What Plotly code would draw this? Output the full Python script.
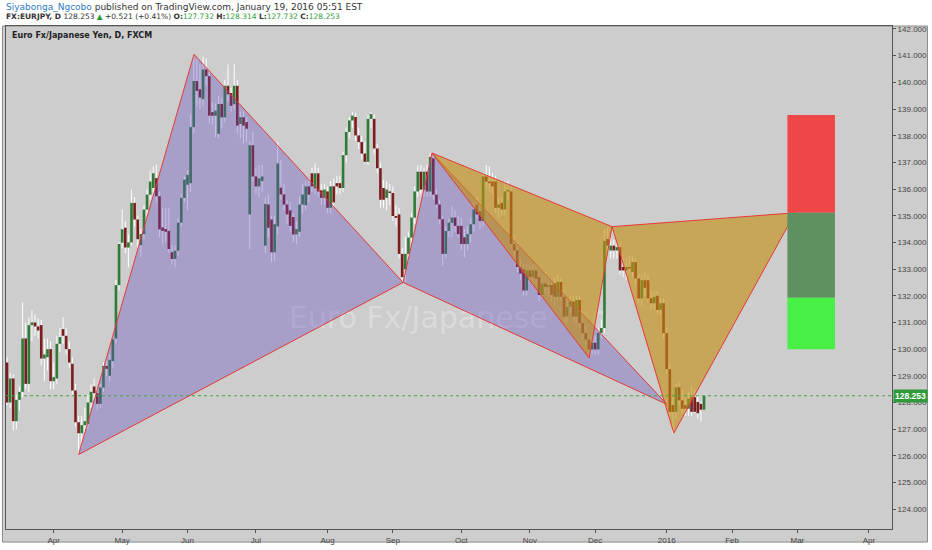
import pandas as pd
import plotly.graph_objects as go

# EURJPY daily candles (FXCM), one per weekday starting 2015-03-11
first_day = "2015-03-11"

open_ = [
    129.50, 128.00, 128.90, 127.30, 128.10, 128.40, 130.40, 128.70, 130.90, 131.00,
    130.85, 130.90, 129.65, 129.70, 130.00, 128.80, 128.90, 130.20, 130.75, 130.50,
    130.00, 129.45, 128.45, 127.26, 126.85, 127.15, 127.20, 128.00, 128.60, 128.35,
    127.95, 128.56, 129.37, 129.00, 129.55, 130.40, 132.40, 133.99, 134.55, 133.81,
    134.00, 135.48, 134.86, 133.90, 134.31, 135.23, 135.79, 136.04, 136.41, 135.73,
    134.56, 134.50, 134.43, 133.63, 133.38, 133.69, 134.74, 135.67, 136.16, 136.22,
    138.32, 140.05, 139.74, 139.37, 140.48, 140.23, 138.88, 138.75, 138.07, 139.19,
    138.69, 139.87, 139.60, 139.18, 139.87, 138.44, 138.69, 138.51, 135.05, 137.64,
    136.47, 136.10, 136.30, 133.88, 135.42, 134.86, 133.63, 134.60, 136.05, 135.80,
    135.42, 135.20, 134.95, 134.30, 134.40, 135.42, 135.40, 136.10, 136.59, 136.03,
    136.59, 135.95, 135.67, 135.91, 135.30, 136.10, 136.22, 136.22, 136.04, 137.27,
    138.14, 138.57, 138.70, 138.01, 137.76, 137.33, 137.02, 138.63, 138.63, 137.52,
    136.78, 136.04, 135.67, 135.91, 135.85, 134.99, 135.05, 133.57, 132.99, 133.57,
    134.18, 134.93, 135.91, 136.65, 135.98, 136.65, 135.91, 137.15, 135.79, 135.42,
    134.87, 133.57, 134.43, 134.74, 134.93, 134.62, 134.62, 134.19, 133.94, 134.31,
    134.68, 135.42, 135.17, 134.80, 136.47, 136.28, 136.28, 136.28, 135.30, 135.48,
    135.24, 135.91, 135.91, 133.94, 133.70, 133.08, 133.00, 132.20, 132.95, 132.70,
    132.95, 132.70, 132.03, 132.46, 132.33, 132.40, 132.46, 131.96, 132.52, 131.96,
    131.22, 131.59, 131.78, 131.22, 131.84, 130.98, 130.60, 130.36, 129.99, 130.24,
    129.99, 130.61, 130.79, 134.13, 133.70, 133.88, 133.70, 133.82, 133.08, 132.95,
    133.08, 132.89, 133.26, 132.65, 131.90, 132.58, 132.58, 131.90, 131.72, 132.00,
    131.47, 131.72, 130.60, 129.25, 127.90, 127.65, 128.57, 128.08, 127.90, 127.77,
    128.20, 128.20, 128.02, 127.95, 127.732,
]

high = [
    129.70, 129.10, 129.05, 128.30, 128.60, 131.75, 131.00, 131.20, 131.45, 131.30,
    131.15, 131.10, 130.40, 130.40, 130.30, 129.50, 130.50, 130.80, 131.20, 130.80,
    130.30, 129.70, 128.70, 127.50, 127.50, 127.80, 128.30, 128.70, 128.90, 128.55,
    128.70, 129.50, 129.60, 129.80, 130.50, 132.60, 134.00, 135.24, 134.80, 134.30,
    135.97, 135.70, 135.00, 134.50, 135.40, 136.00, 136.70, 136.85, 136.90, 135.90,
    135.30, 135.30, 135.30, 133.90, 133.90, 134.90, 135.80, 136.47, 136.70, 138.81,
    141.05, 140.85, 140.70, 140.96, 140.90, 140.40, 139.25, 139.20, 139.50, 139.40,
    140.10, 140.67, 139.80, 140.67, 140.10, 138.90, 138.90, 138.70, 137.80, 138.14,
    136.80, 136.90, 136.90, 135.70, 135.80, 135.00, 135.00, 137.76, 137.10, 136.20,
    135.60, 135.50, 135.10, 134.80, 135.73, 136.20, 136.30, 136.34, 136.80, 136.96,
    136.80, 136.20, 136.20, 136.10, 136.30, 136.40, 136.50, 136.50, 137.40, 138.30,
    138.70, 138.88, 138.85, 138.30, 138.00, 137.76, 138.75, 138.88, 138.80, 137.70,
    137.00, 136.35, 136.30, 136.20, 136.10, 135.40, 135.30, 133.80, 134.20, 134.40,
    135.10, 136.10, 136.90, 136.90, 136.80, 136.90, 137.35, 137.30, 136.00, 135.60,
    135.00, 134.60, 134.90, 135.36, 135.20, 135.00, 134.90, 134.50, 134.60, 134.90,
    135.50, 135.70, 135.40, 136.60, 136.90, 136.85, 136.60, 136.50, 135.70, 135.70,
    136.28, 136.30, 136.10, 134.30, 134.00, 133.40, 133.20, 133.20, 133.30, 133.20,
    133.20, 133.00, 132.80, 132.90, 132.70, 132.60, 132.70, 132.80, 132.70, 132.20,
    131.90, 132.00, 132.00, 132.00, 132.00, 131.20, 130.90, 130.50, 130.50, 130.50,
    130.80, 131.10, 134.50, 134.56, 134.20, 134.10, 134.00, 134.00, 133.40, 133.40,
    133.50, 133.50, 133.40, 132.80, 132.80, 132.90, 132.80, 132.20, 132.20, 132.20,
    131.90, 131.90, 130.80, 129.40, 128.20, 128.70, 128.80, 128.50, 128.20, 128.40,
    128.60, 128.50, 128.30, 128.05, 128.314,
]

low = [
    127.90, 127.80, 126.95, 127.00, 127.70, 128.20, 128.50, 128.40, 130.30, 130.50,
    130.40, 129.40, 128.80, 129.20, 128.50, 128.50, 128.70, 129.90, 130.20, 129.80,
    129.30, 128.30, 127.10, 126.05, 126.30, 126.80, 127.00, 127.80, 128.10, 127.70,
    127.80, 128.40, 129.00, 128.80, 129.30, 130.20, 132.20, 133.80, 133.60, 133.07,
    133.90, 134.60, 133.80, 133.45, 134.10, 135.00, 135.60, 135.80, 135.50, 134.20,
    133.95, 134.00, 133.60, 133.20, 133.07, 133.50, 134.60, 135.50, 135.20, 135.90,
    138.10, 139.10, 139.00, 139.10, 139.90, 138.45, 138.40, 137.95, 137.90, 138.30,
    138.50, 139.30, 138.90, 139.00, 138.10, 137.90, 137.70, 137.76, 133.75, 136.30,
    135.80, 135.70, 135.90, 133.60, 134.20, 133.26, 133.30, 134.30, 135.60, 135.20,
    134.70, 134.40, 134.00, 133.95, 134.20, 135.10, 135.20, 135.50, 135.90, 135.80,
    135.70, 135.40, 135.40, 135.10, 135.10, 135.30, 135.80, 135.80, 135.90, 137.00,
    137.90, 138.30, 137.80, 137.50, 137.10, 136.95, 136.90, 138.30, 137.30, 136.60,
    135.30, 135.30, 135.20, 135.40, 134.80, 134.60, 133.40, 132.52, 132.50, 133.30,
    134.00, 134.70, 135.70, 135.80, 135.70, 135.70, 135.70, 135.60, 135.30, 134.70,
    133.14, 133.40, 134.20, 134.19, 134.40, 134.20, 133.70, 133.45, 133.70, 134.00,
    134.40, 134.90, 134.50, 134.60, 136.00, 135.90, 135.80, 135.10, 134.90, 135.00,
    135.00, 135.60, 133.80, 133.50, 132.90, 132.60, 132.00, 132.00, 132.50, 132.40,
    132.50, 131.80, 131.90, 132.10, 132.00, 131.80, 131.60, 131.80, 131.80, 131.00,
    131.00, 131.40, 131.00, 131.00, 130.80, 130.40, 130.10, 129.68, 129.80, 129.80,
    129.80, 130.40, 130.60, 133.60, 133.40, 133.40, 133.40, 132.80, 132.70, 132.60,
    132.80, 132.70, 132.40, 131.70, 131.60, 132.00, 131.80, 131.50, 131.50, 131.30,
    131.30, 130.40, 129.10, 127.50, 126.85, 127.40, 127.90, 127.60, 127.50, 127.50,
    127.50, 127.60, 127.40, 127.28, 127.732,
]

close = [
    128.00, 128.90, 127.30, 128.10, 128.40, 130.40, 128.70, 130.90, 131.00, 130.85,
    130.70, 129.65, 129.80, 130.00, 128.80, 128.95, 130.20, 130.45, 130.50, 130.00,
    129.50, 128.45, 127.26, 126.85, 127.15, 127.30, 128.00, 128.40, 128.35, 127.95,
    128.56, 129.37, 129.26, 129.60, 130.37, 132.40, 133.94, 134.49, 133.81, 134.00,
    135.48, 134.86, 134.12, 134.31, 135.23, 135.79, 136.28, 136.59, 135.73, 134.49,
    134.43, 134.40, 133.75, 133.38, 133.69, 134.74, 135.67, 136.35, 136.53, 138.32,
    140.05, 139.68, 139.43, 140.48, 140.23, 138.75, 138.75, 138.94, 139.19, 138.69,
    139.87, 139.55, 139.12, 139.87, 138.38, 138.69, 138.38, 138.26, 137.64, 136.47,
    136.10, 136.40, 136.47, 135.44, 134.55, 133.63, 134.68, 136.96, 135.80, 135.42,
    135.05, 134.62, 134.30, 134.50, 135.42, 135.79, 136.10, 135.79, 136.10, 136.59,
    135.91, 135.67, 135.98, 135.30, 136.10, 135.50, 136.10, 136.04, 137.27, 138.14,
    138.57, 138.75, 138.01, 137.76, 137.33, 137.02, 138.63, 138.81, 137.52, 136.78,
    135.60, 135.60, 135.98, 135.85, 134.99, 134.92, 133.57, 132.70, 133.57, 134.18,
    134.93, 135.91, 136.65, 135.98, 136.65, 135.91, 137.20, 135.79, 135.42, 134.87,
    133.57, 134.43, 134.74, 134.93, 134.62, 134.31, 133.94, 133.94, 134.31, 134.68,
    135.24, 135.05, 134.80, 136.47, 136.28, 136.22, 136.10, 135.30, 135.42, 135.24,
    135.91, 135.97, 133.94, 133.70, 133.08, 132.83, 132.20, 132.95, 132.70, 132.95,
    132.64, 132.03, 132.46, 132.33, 132.40, 132.03, 131.96, 132.52, 131.96, 131.22,
    131.59, 131.78, 131.22, 131.84, 130.98, 130.60, 130.36, 129.99, 130.24, 129.99,
    130.61, 130.79, 134.06, 133.88, 133.88, 133.70, 133.82, 132.95, 132.95, 133.08,
    133.02, 133.26, 132.65, 131.90, 132.58, 132.30, 131.90, 131.72, 131.96, 131.47,
    131.72, 130.60, 129.25, 127.65, 127.65, 128.57, 128.08, 127.77, 127.77, 128.14,
    127.65, 127.65, 127.60, 127.73, 128.253,
]

assert len(open_) == len(high) == len(low) == len(close)

month_ticks = ["2015-04-01", "2015-05-01", "2015-06-01", "2015-07-01", "2015-08-03",
               "2015-09-01", "2015-10-01", "2015-11-02", "2015-12-01", "2016-01-01",
               "2016-02-01", "2016-03-01", "2016-04-01"]
month_labels = ["Apr", "May", "Jun", "Jul", "Aug", "Sep", "Oct", "Nov", "Dec",
                "2016", "Feb", "Mar", "Apr"]

# purple XABCD (X, A, B, C, D)
purple_t = ["2015-04-13 12:00", "2015-06-03 14:00", "2015-09-04 19:00",
            "2015-09-18 02:00", "2016-01-01 14:00"]
purple_p = [126.05, 141.05, 132.50, 137.35, 127.93]

# gold XABCD (X, A, B, C, D)
gold_t = ["2015-09-18 02:00", "2015-11-27 14:00", "2015-12-08 23:00",
          "2016-01-05 19:00", "2016-02-29 19:00"]
gold_p = [137.35, 129.67, 134.59, 126.85, 135.11]

# position tool: stop, entry, first target, second target
pos_t = ["2016-02-25 07:00", "2016-03-17 14:00"]
pos_levels = [138.78, 135.11, 131.93, 130.00]

last_price = 128.253

GREEN = "#2f7a36"
RED = "#7a1d1d"
GRID_BG = "#cdcdcd"

days = pd.bdate_range(first_day, periods=len(close)) + pd.Timedelta(hours=12)

# wicks above and below the body, bodies split by direction
wick_x, wick_y = [], []
up_x, up_y, dn_x, dn_y = [], [], [], []
for d, o, h, l, c in zip(days, open_, high, low, close):
    top, bot = max(o, c), min(o, c)
    wick_x += [d, d, None, d, d, None]
    wick_y += [h, top, None, bot, l, None]
    if c >= o:
        up_x += [d, d, None]
        up_y += [o, c, None]
    else:
        dn_x += [d, d, None]
        dn_y += [o, c, None]

fig = go.Figure()

fig.add_trace(go.Scatter(x=wick_x, y=wick_y, mode="lines",
                         line=dict(color="white", width=1), hoverinfo="skip"))
fig.add_trace(go.Scatter(x=up_x, y=up_y, mode="lines",
                         line=dict(color=GREEN, width=2.6), hoverinfo="skip"))
fig.add_trace(go.Scatter(x=dn_x, y=dn_y, mode="lines",
                         line=dict(color=RED, width=2.6), hoverinfo="skip"))


def triangle(ts, ps, idx, fill):
    xs = [ts[i] for i in idx] + [ts[idx[0]]]
    ys = [ps[i] for i in idx] + [ps[idx[0]]]
    return go.Scatter(x=xs, y=ys, mode="lines", fill="toself", fillcolor=fill,
                      line=dict(color="#e53935", width=1), hoverinfo="skip")


PURPLE_FILL = "rgba(100,77,191,0.36)"
GOLD_FILL = "rgba(196,140,18,0.62)"

fig.add_trace(triangle(purple_t, purple_p, [0, 1, 2], PURPLE_FILL))
fig.add_trace(triangle(purple_t, purple_p, [2, 3, 4], PURPLE_FILL))
fig.add_trace(triangle(gold_t, gold_p, [0, 1, 2], GOLD_FILL))
fig.add_trace(triangle(gold_t, gold_p, [2, 3, 4], GOLD_FILL))

shapes = [
    # chart panel background incl. axis strips
    dict(type="rect", xref="paper", yref="paper", x0=-0.004, x1=1.04, y0=-0.026, y1=1.0,
         fillcolor=GRID_BG, line=dict(color="#8a8a8a", width=1), layer="below"),
    # watermark
    dict(type="rect", xref="paper", yref="paper", x0=0.0, x1=1.0, y0=0.36, y1=0.49,
         line=dict(width=0), fillcolor="rgba(0,0,0,0)", layer="below",
         label=dict(text="Euro Fx/Japanese Yen", textposition="middle center",
                    font=dict(family="DejaVu Sans", size=30, color="rgba(255,255,255,0.3)"))),
    # last price line
    dict(type="line", xref="paper", yref="y", x0=0, x1=1, y0=last_price, y1=last_price,
         line=dict(color="#3fa63f", width=1, dash="dot")),
]
pos_colors = ["#ef4747", "#5f9160", "#47ef47"]
for k, col in enumerate(pos_colors):
    shapes.append(dict(type="rect", xref="x", yref="y", x0=pos_t[0], x1=pos_t[1],
                       y0=pos_levels[k + 1], y1=pos_levels[k],
                       fillcolor=col, line=dict(width=0), layer="above"))

GREEN_TXT = "#2e9e3a"
head1 = ("<span style='color:#2c7cc3'>Siyabonga_Ngcobo</span> published on "
         "TradingView.com, January 19, 2016 05:51 EST")
head2 = ("<b>FX:EURJPY, D</b> 128.253 <span style='color:%s'>▲</span> +0.521 (+0.41%%) "
         "<b>O:</b><span style='color:%s'>127.732</span> "
         "<b>H:</b><span style='color:%s'>128.314</span> "
         "<b>L:</b><span style='color:%s'>127.732</span> "
         "<b>C:</b><span style='color:%s'>128.253</span>") % ((GREEN_TXT,) * 5)

annotations = [
    dict(xref="paper", yref="paper", x=-0.0025, y=1.038, xanchor="left", yanchor="middle",
         text=head1, showarrow=False, font=dict(family="DejaVu Sans", size=9, color="#333")),
    dict(xref="paper", yref="paper", x=-0.0025, y=1.018, xanchor="left", yanchor="middle",
         text=head2, showarrow=False, font=dict(family="DejaVu Sans", size=7.5, color="#333")),
    dict(xref="paper", yref="paper", x=0.005, y=0.982, xanchor="left", yanchor="middle",
         text="<b>Euro Fx/Japanese Yen, D, FXCM</b>", showarrow=False,
         font=dict(family="DejaVu Sans", size=8, color="#222")),
    dict(xref="paper", yref="y", x=1.001, y=last_price, xanchor="left", yanchor="middle",
         text="<b>%.3f</b>" % last_price, showarrow=False, bgcolor="#2f9a3a",
         borderpad=1, font=dict(family="Liberation Sans", size=8.5, color="white")),
]

fig.update_layout(
    width=932, height=550,
    margin=dict(l=5, r=38, t=26, b=15),
    paper_bgcolor="white",
    plot_bgcolor=GRID_BG,
    showlegend=False,
    shapes=shapes,
    annotations=annotations,
    font=dict(family="Liberation Sans", size=8, color="#444"),
)

fig.update_xaxes(
    type="date",
    range=["2015-03-11 04:00", "2016-04-12 22:00"],
    rangebreaks=[dict(bounds=["sat", "mon"])],
    tickvals=pd.to_datetime(month_ticks) + pd.Timedelta(hours=12),
    ticktext=month_labels,
    ticks="outside", ticklen=3, tickcolor="#555",
    showgrid=False, zeroline=False,
    showline=True, linecolor="#555", linewidth=1, mirror=True,
    tickfont=dict(size=8, color="#444"),
)
fig.update_yaxes(
    side="right",
    range=[123.259, 142.111],
    dtick=1, tick0=124, tickformat=".3f",
    ticks="outside", ticklen=3, tickcolor="#555",
    showgrid=False, zeroline=False,
    showline=True, linecolor="#555", linewidth=1, mirror=True,
    tickfont=dict(size=8, color="#444"),
)

# the page's default body margin would push the figure 8px off
fig.write_html("out.html", config={"displayModeBar": False},
               post_script="document.body.style.margin='0px';")
